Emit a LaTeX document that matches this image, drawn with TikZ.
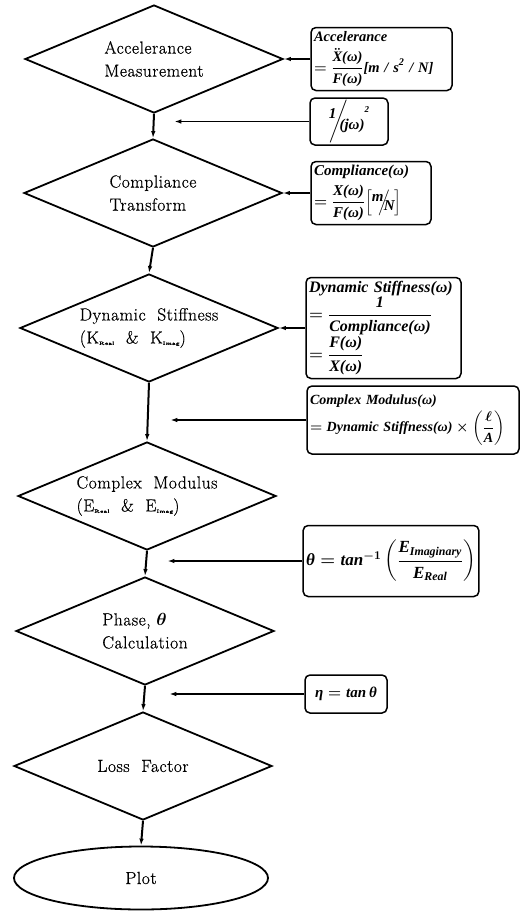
\RequirePackage{fix-cm}
\documentclass[tikz,border=0pt]{standalone}
\usepackage{amsmath}
\usepackage{fontspec}
\newfontfamily\bxf{Liberation Serif}
\newfontfamily\dfont{Latin Modern Roman}[FakeBold=0.6,LetterSpace=3]
\usetikzlibrary{shapes.geometric,arrows.meta}
\newcommand\T[1]{\text{#1}}
\newcommand\ksub[1]{\raisebox{-1.5pt}{\fontsize{5}{5}\selectfont\bfseries #1}}
\begin{document}
\begin{tikzpicture}[x=1pt,y=-1pt,
  dia/.style={diamond,draw,line width=1.8pt,inner sep=0pt,aspect=2.4,minimum width=258pt,minimum height=108pt,align=left,font=\dfont\fontsize{17.5}{23}\selectfont},
  fbox/.style={draw,rounded corners=5pt,line width=1.5pt,inner xsep=3pt,inner ysep=1pt,align=left},
  arr/.style={line width=1.5pt,-{Latex[length=7pt,width=4.5pt]}},
  vline/.style={line width=2pt,-{Latex[length=7pt,width=4.5pt]}}]
\useasboundingbox (0,0) rectangle (526,911);

% flow diamonds
\node[dia] (d1) at (154,59) {Accelerance\\Measurement};
\node[dia] (d2) at (153,193) {Compliance\\Transform};
\node[dia] (d3) at (149,328) {Dynamic\ \ Stiffness\\(K\ksub{Real}\ \ \&\ \ K\ksub{Imag})};
\node[dia] (d4) at (147,496) {Complex\ \ Modulus\\(E\ksub{Real}\ \ \&\ \ E\ksub{Imag})};
\node[dia] (d5) at (145,631) {Phase, $\boldsymbol{\theta}$\\Calculation};
\node[dia] (d6) at (143,766) {Loss\ \ Factor};
\node[ellipse,draw,line width=1.8pt,minimum width=254pt,minimum height=63pt,inner sep=0pt,font=\dfont\fontsize{17.5}{23}\selectfont] (pl) at (141,878) {Plot};

% formula boxes
\node[fbox,text width=135pt,minimum height=63pt,font=\bxf\bfseries\itshape\boldmath\fontsize{14.5}{15}\selectfont] (b1) at (381.5,59)
  {Accelerance\\[5pt]$=\dfrac{\ddot{\T{X}}\T{(ω)}}{\T{F(ω)}}\T{[m / s}^{\T{2}}\T{ / N]}$};
\node[fbox,minimum width=78pt,minimum height=45pt,font=\bxf\bfseries\itshape\boldmath\fontsize{15}{17}\selectfont] (b2) at (349,121.5)
  {$\raisebox{7pt}{1}\mkern-7mu\Bigg/\mkern-9mu\raisebox{-4pt}{(jω)}\raisebox{13pt}{\fontsize{9}{9}\selectfont 2}$};
\node[fbox,text width=114pt,minimum height=63pt,font=\bxf\bfseries\itshape\boldmath\fontsize{15}{15}\selectfont] (b3) at (371,193)
  {Compliance(ω)\\[5pt]$=\dfrac{\T{X(ω)}}{\T{F(ω)}}\Bigl[\raisebox{5pt}{m}\mkern-5mu\Big/\mkern-7mu\raisebox{-4pt}{N}\Bigr]$};
\node[fbox,text width=149pt,minimum height=101pt,font=\bxf\bfseries\itshape\boldmath\fontsize{16}{15}\selectfont] (b4) at (383.5,328)
  {Dynamic Stiffness(ω)\\$=\dfrac{\T{1}}{\T{Compliance(ω)}}$\\$=\dfrac{\T{F(ω)}}{\T{X(ω)}}$};
\node[fbox,text width=206pt,minimum height=68pt,font=\bxf\bfseries\itshape\boldmath\fontsize{14}{16}\selectfont] (b5) at (413,420)
  {Complex Modulus(ω)\\[3pt]$=\T{Dynamic Stiffness(ω)}\times\left(\dfrac{\ell}{\T{A}}\right)$};
\node[fbox,minimum width=168pt,minimum height=71pt,align=center,font=\bxf\bfseries\itshape\boldmath\fontsize{17}{20}\selectfont] (b6) at (391,561)
  {$\T{θ}=\T{tan}^{-1}\left(\dfrac{\T{E}_{\T{Imaginary}}}{\T{E}_{\T{Real}}}\right)$};
\node[fbox,minimum width=82pt,minimum height=38pt,align=center,font=\bxf\bfseries\itshape\boldmath\fontsize{15}{17}\selectfont] (b7) at (346,694)
  {$\T{η}=\T{tan}\,\T{θ}$};

% free ends of the side arrows
\path (b2.west) ++(-135,0) coordinate (e2);
\path (b5.west) ++(-136,0) coordinate (e5);
\path (b6.west) ++(-135,0) coordinate (e6);
\path (b7.west) ++(-135,0) coordinate (e7);

% vertical flow
\draw[vline] (d1.south) -- (d2.north);
\draw[vline] (d2.south) -- (d3.north);
\draw[vline] (d3.south) -- (d4.north);
\draw[vline] (d4.south) -- (d5.north);
\draw[vline] (d5.south) -- (d6.north);
\draw[vline] (d6.south) -- (pl.north);

% side arrows
\draw[arr] (b1.west) -- (d1.east);
\draw[arr] (b3.west) -- (d2.east);
\draw[arr] (b4.west) -- (d3.east);
\draw[arr] (b2.west) -- (e2);
\draw[arr] (b5.west) -- (e5);
\draw[arr] (b6.west) -- (e6);
\draw[arr] (b7.west) -- (e7);
\end{tikzpicture}
\end{document}
